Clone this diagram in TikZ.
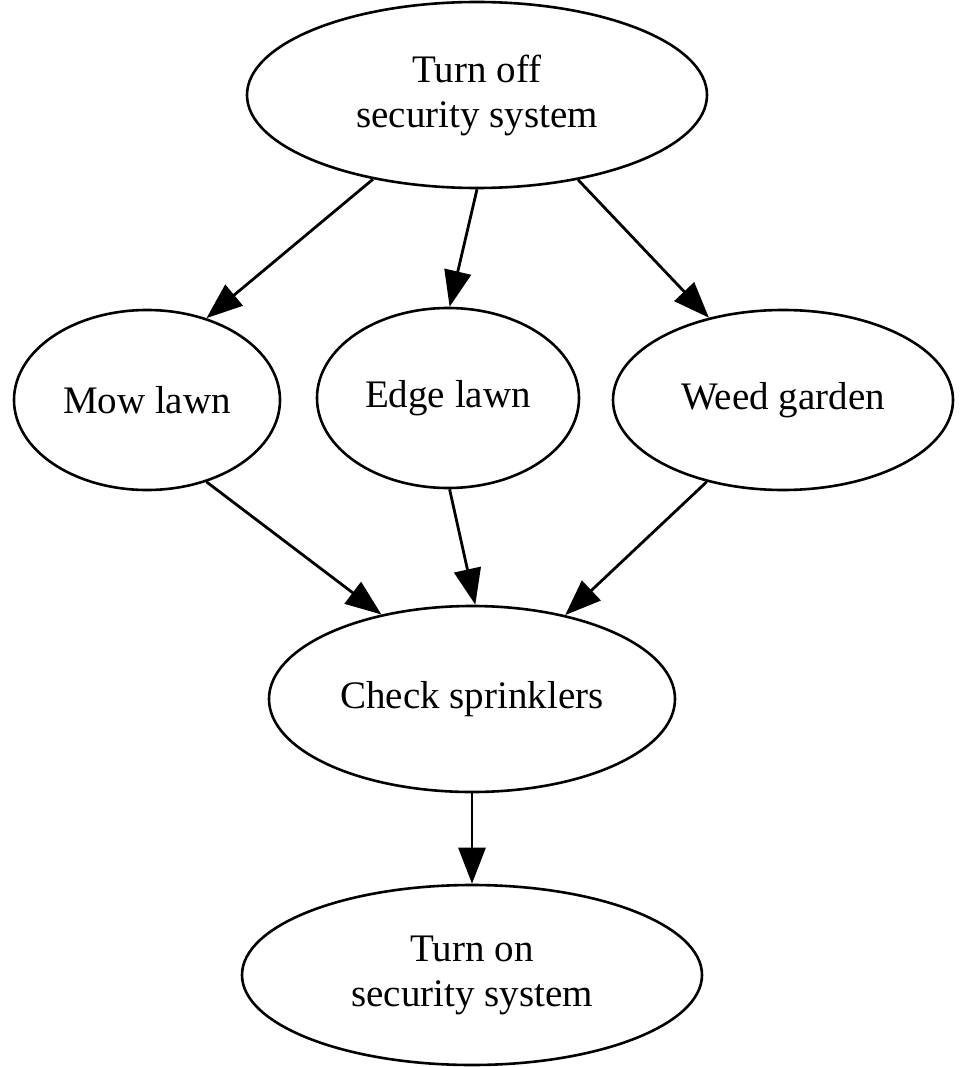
\documentclass[tikz,border=0pt]{standalone}
\usepackage{fontspec}
\setmainfont{Liberation Serif}
\usetikzlibrary{arrows.meta,shapes.geometric}
\begin{document}
\begin{tikzpicture}[x=1pt,y=-1pt,
  oval/.style={ellipse,draw,line width=2.6pt,inner sep=0pt,align=center,
    font=\fontsize{39}{45}\selectfont},
  edge/.style={line width=2.8pt,-{Triangle[length=36pt,width=27pt]}}]
\useasboundingbox (0,0) rectangle (961,1067);
\node[oval,minimum width=460pt,minimum height=186pt] (top) at (477,95) {Turn off\\security system};
\node[oval,minimum width=266pt,minimum height=180pt] (mow) at (147,400) {Mow lawn};
\node[oval,minimum width=262pt,minimum height=180pt] (edgel) at (448,398) {Edge lawn};
\node[oval,minimum width=340pt,minimum height=180pt] (weed) at (783,400) {Weed garden};
\node[oval,minimum width=406pt,minimum height=186pt] (check) at (472,699) {Check sprinklers};
\node[oval,minimum width=460pt,minimum height=180pt] (on) at (472,975) {Turn on\\security system};
\draw[edge] (top.219) -- (mow.54);
\draw[edge] (top.270) -- (edgel.89);
\draw[edge] (top.320) -- (weed.132);
\draw[edge] (mow.306) -- (check.137);
\draw[edge] (edgel.271) -- (check.88);
\draw[edge] (weed.227) -- (check.42);
\draw[edge] (check.270) -- (on.90);
\end{tikzpicture}
\end{document}
